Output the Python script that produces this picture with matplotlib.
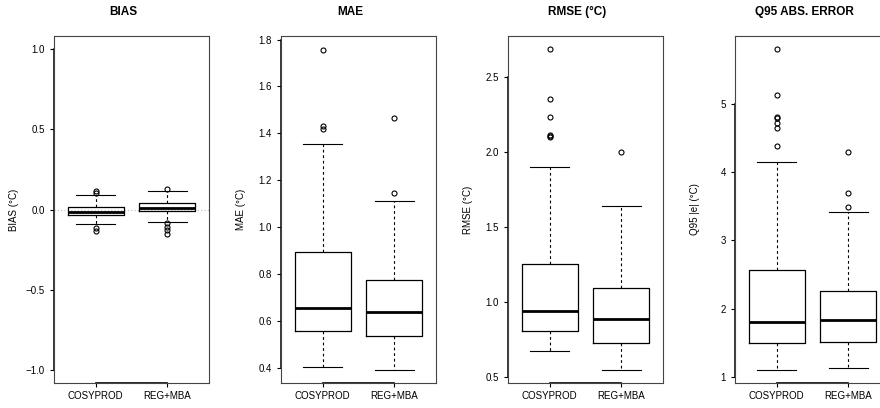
import numpy as np
import matplotlib
matplotlib.use("Agg")
import matplotlib.pyplot as plt

plt.rcParams["font.family"] = ["Liberation Sans", "DejaVu Sans"]

GROUPS = ["COSYPROD", "REG+MBA"]
TITLES = ["BIAS", "MAE", "RMSE (°C)", "Q95 ABS. ERROR"]
YLABELS = ["BIAS (°C)", "MAE (°C)", "RMSE (°C)", "Q95 |e| (°C)"]

# box stats per group: (whislo, q1, med, q3, whishi)
bias_stats = [(-0.093, -0.036, -0.014, 0.016, 0.091),
              (-0.077, -0.009, 0.011, 0.042, 0.114)]
bias_fliers = [[0.114, 0.100, -0.118, -0.133],
               [0.126, -0.087, -0.108, -0.129, -0.150]]

mae_stats = [(0.404, 0.557, 0.655, 0.895, 1.352),
             (0.389, 0.535, 0.638, 0.775, 1.109)]
mae_fliers = [[1.757, 1.430, 1.420],
              [1.463, 1.147]]

rmse_stats = [(0.673, 0.810, 0.941, 1.256, 1.899),
              (0.551, 0.731, 0.888, 1.094, 1.642)]
rmse_fliers = [[2.686, 2.354, 2.232, 2.115, 2.107, 2.100],
               [2.003]]

q95_stats = [(1.100, 1.503, 1.800, 2.573, 4.140),
             (1.127, 1.510, 1.840, 2.260, 3.410)]
q95_fliers = [[5.800, 5.130, 4.810, 4.790, 4.710, 4.650, 4.385],
              [4.290, 3.700, 3.490]]

ALL_STATS = [bias_stats, mae_stats, rmse_stats, q95_stats]
ALL_FLIERS = [bias_fliers, mae_fliers, rmse_fliers, q95_fliers]
YLIMS = [(-1.08, 1.08), (0.334, 1.815), (0.463, 2.774), (0.913, 5.99)]
YTICKS = [[-1.0, -0.5, 0.0, 0.5, 1.0],
          [0.4, 0.6, 0.8, 1.0, 1.2, 1.4, 1.6, 1.8],
          [0.5, 1.0, 1.5, 2.0, 2.5],
          [1, 2, 3, 4, 5]]
YFMT = ["{:.1f}", "{:.1f}", "{:.1f}", "{:.0f}"]


def main():
    fig = plt.figure(figsize=(8.8, 4.08), dpi=100)
    W, H = 880.0, 408.0
    lefts = [54, 281, 508, 735]
    for i in range(4):
        ax = fig.add_axes([lefts[i] / W, (H - 383) / H, 155 / W, 347 / H])
        stats = []
        for g, (lo, q1, med, q3, hi) in enumerate(ALL_STATS[i]):
            stats.append(dict(label=GROUPS[g], whislo=lo, q1=q1, med=med,
                              q3=q3, whishi=hi, fliers=ALL_FLIERS[i][g]))
        if i == 0:
            ax.axhline(0, color="#bbbbbb", lw=0.8, ls=(0, (1, 2)), zorder=0)
        ax.bxp(stats, positions=[1, 2], widths=0.78,
               boxprops=dict(color="black", lw=0.9),
               medianprops=dict(color="black", lw=2.0),
               whiskerprops=dict(color="black", lw=0.8, ls=(0, (2.5, 2.5))),
               capprops=dict(color="black", lw=0.8),
               capwidths=0.55,
               flierprops=dict(marker="o", markersize=3.6, markerfacecolor="none",
                               markeredgecolor="black", markeredgewidth=0.8))
        ax.set_xlim(0.42, 2.58)
        ax.set_ylim(*YLIMS[i])
        ax.set_yticks(YTICKS[i])
        ax.set_yticklabels([YFMT[i].format(v).replace("-", "\u2212") for v in YTICKS[i]])
        ax.set_xticks([1, 2])
        ax.set_xticklabels(GROUPS)
        ax.tick_params(axis="both", labelsize=7, length=3, width=0.8, direction="out",
                       color="black")
        ax.tick_params(axis="x", pad=2.5)
        ax.tick_params(axis="y", pad=3.5)
        for sp in ax.spines.values():
            sp.set_color("#444444")
            sp.set_linewidth(0.8)
        # axis lines spanning first to last tick, like R
        ax.plot([1, 2], [0, 0], color="black", lw=1.2, clip_on=False,
                transform=ax.get_xaxis_transform())
        yt = YTICKS[i]
        ax.plot([0, 0], [yt[0], yt[-1]], color="black", lw=1.1, clip_on=False,
                transform=ax.get_yaxis_transform())
        ax.set_title(TITLES[i], fontsize=8.5, fontweight="bold", pad=15,
                     x=0.5 - 8 / 155)
        ax.set_ylabel(YLABELS[i], fontsize=7)
        ax.yaxis.set_label_coords(-40 / 155, 0.5)
        ax.yaxis.label.set_verticalalignment("center")

    fig.savefig("out.png", dpi=100)


if __name__ == "__main__":
    main()
